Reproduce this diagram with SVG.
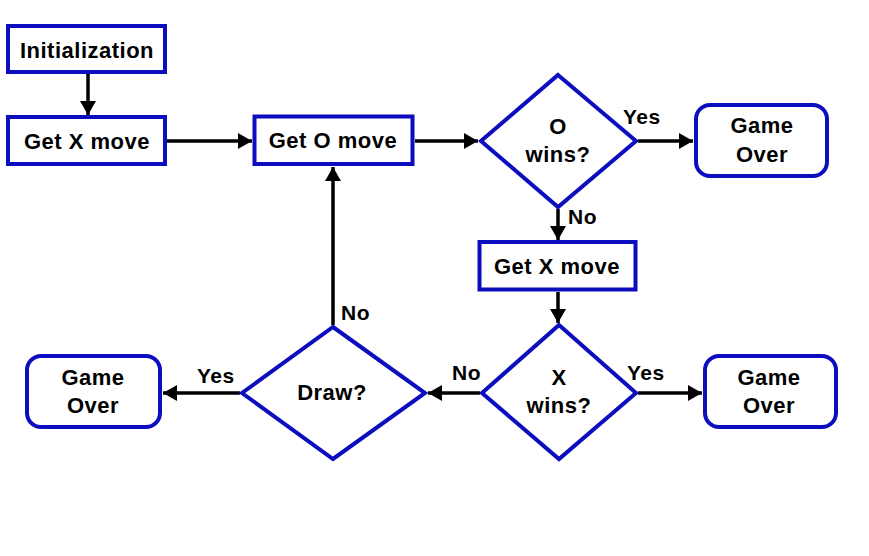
<svg xmlns="http://www.w3.org/2000/svg" width="869" height="556" viewBox="0 0 869 556">
<style>
  .box { fill: #ffffff; stroke: #0d0dc0; stroke-width: 4; }
  .t { font-family: "Liberation Sans", Arial, sans-serif; font-weight: bold; font-size: 22px; fill: #000000; text-anchor: middle; letter-spacing: 0.5px; }
  .lbl { font-family: "Liberation Sans", Arial, sans-serif; font-weight: bold; font-size: 21px; fill: #000000; letter-spacing: 0.5px; }
  .c { fill: none; stroke: #000000; stroke-width: 3.5; marker-end: url(#ah); }
</style>
<defs>
  <marker id="ah" markerUnits="userSpaceOnUse" markerWidth="14" markerHeight="16" refX="14" refY="8" orient="auto">
    <path d="M0,0 L14,8 L0,16 z" fill="#000000"/>
  </marker>
</defs>
<rect width="869" height="556" fill="#ffffff"/>
<g id="connectors">
  <line class="c" x1="88" y1="73" x2="88" y2="115"/>
  <line class="c" x1="167" y1="141" x2="252" y2="141"/>
  <line class="c" x1="415" y1="141" x2="478" y2="141"/>
  <line class="c" x1="638" y1="141" x2="693" y2="141"/>
  <line class="c" x1="558" y1="209" x2="558" y2="240"/>
  <line class="c" x1="558" y1="292" x2="558" y2="323"/>
  <line class="c" x1="638" y1="393" x2="702" y2="393"/>
  <line class="c" x1="480" y1="393" x2="428" y2="393"/>
  <line class="c" x1="240" y1="393" x2="163" y2="393"/>
  <line class="c" x1="333" y1="325" x2="333" y2="167"/>
  <text class="lbl" x="623" y="124">Yes</text>
  <text class="lbl" x="568" y="224">No</text>
  <text class="lbl" x="341" y="320">No</text>
  <text class="lbl" x="197" y="383">Yes</text>
  <text class="lbl" x="452" y="380">No</text>
  <text class="lbl" x="627" y="380">Yes</text>
</g>
<g id="init">
  <rect class="box" x="8" y="26" width="157" height="46"/>
  <text class="t" x="87" y="58">Initialization</text>
</g>
<g id="getx1">
  <rect class="box" x="8" y="117" width="157" height="47"/>
  <text class="t" x="87" y="149">Get X move</text>
</g>
<g id="geto">
  <rect class="box" x="254.5" y="116.5" width="158" height="47.5"/>
  <text class="t" x="333" y="148">Get O move</text>
</g>
<g id="owins">
  <polygon class="box" points="558,75 636,141 558,207 481,141"/>
  <text class="t" x="558" y="134">O</text>
  <text class="t" x="558" y="162">wins?</text>
</g>
<g id="gameover1">
  <rect class="box" x="696" y="105" width="131" height="71" rx="14" ry="14"/>
  <text class="t" x="762" y="133">Game</text>
  <text class="t" x="762" y="162">Over</text>
</g>
<g id="getx2">
  <rect class="box" x="479.5" y="242" width="156" height="47.5"/>
  <text class="t" x="557" y="274">Get X move</text>
</g>
<g id="xwins">
  <polygon class="box" points="559,325 636,393 559,459 482,393"/>
  <text class="t" x="559" y="385">X</text>
  <text class="t" x="559" y="413">wins?</text>
</g>
<g id="draw">
  <polygon class="box" points="333,327 425,393 333,459 242,393"/>
  <text class="t" x="332" y="400">Draw?</text>
</g>
<g id="gameover2">
  <rect class="box" x="705" y="356" width="131" height="71" rx="14" ry="14"/>
  <text class="t" x="769" y="385">Game</text>
  <text class="t" x="769" y="413">Over</text>
</g>
<g id="gameover3">
  <rect class="box" x="27" y="356" width="133" height="71" rx="14" ry="14"/>
  <text class="t" x="93" y="385">Game</text>
  <text class="t" x="93" y="413">Over</text>
</g>
</svg>
